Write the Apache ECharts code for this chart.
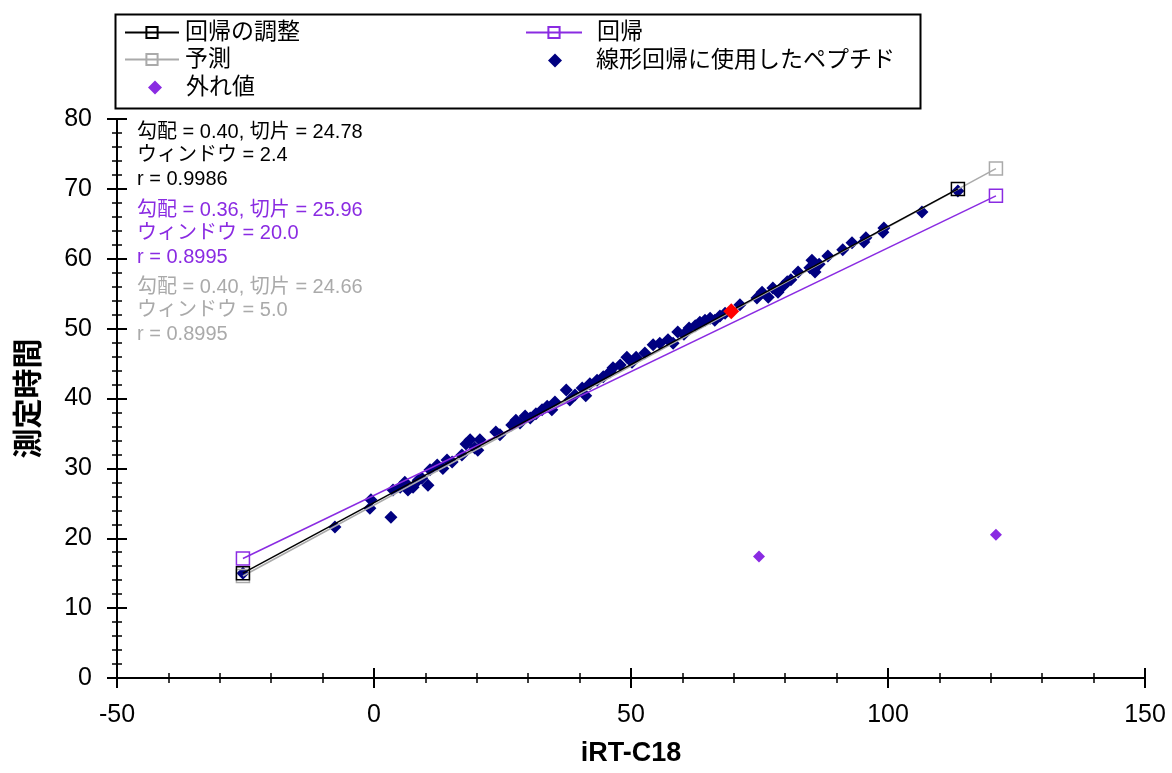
<!DOCTYPE html>
<html>
<head>
<meta charset="utf-8">
<script src="https://cdn.jsdelivr.net/npm/echarts@6/dist/echarts.min.js"></script>
<style>
  html, body { margin: 0; padding: 0; background: #fff; }
  #main { width: 1172px; height: 773px; }
</style>
</head>
<body>
<div id="main"></div>
<script>
// iRT-C18 vs 測定時間
var peptides = [
  [-25.5, 15.0], [-7.6, 21.6], [-0.8, 24.3], [-0.6, 25.5], [3.3, 23.0],
  [3.7, 26.9], [5.1, 27.3], [6.0, 28.0], [6.6, 26.9], [7.6, 27.3],
  [8.6, 28.3], [9.3, 28.6], [10.5, 27.6], [10.9, 29.8], [12.3, 30.5],
  [13.4, 30.0], [14.2, 31.2], [15.2, 30.9], [17.1, 31.9], [17.9, 33.5],
  [18.7, 34.1], [19.6, 32.9], [20.6, 34.1], [20.2, 32.6], [23.7, 35.2],
  [24.5, 34.8], [26.8, 36.2], [27.6, 36.9], [28.4, 36.5], [29.4, 37.5],
  [30.4, 37.2], [31.5, 37.8], [32.7, 38.4], [33.7, 38.9], [34.6, 38.4],
  [35.2, 39.5], [37.4, 41.2], [38.1, 39.8], [39.1, 40.5], [40.5, 41.5],
  [41.2, 40.4], [42.0, 42.1], [43.4, 42.6], [44.6, 43.1], [45.9, 43.8],
  [46.5, 44.4], [47.9, 44.8], [49.2, 45.9], [50.2, 45.2], [51.0, 45.9],
  [52.7, 46.5], [54.3, 47.7], [55.6, 47.9], [57.2, 48.4], [58.2, 47.9],
  [59.1, 49.5], [60.3, 49.2], [61.3, 50.1], [62.5, 50.4], [63.4, 50.9],
  [64.4, 51.2], [65.4, 51.5], [66.3, 51.2], [67.3, 51.8], [68.3, 52.2],
  [71.2, 53.4], [74.5, 54.4], [75.5, 55.2], [76.7, 54.5], [77.6, 55.8],
  [78.6, 55.2], [79.6, 56.1], [80.4, 56.7], [81.1, 57.0], [82.5, 58.1],
  [84.8, 58.7], [85.2, 59.8], [85.8, 58.1], [86.6, 59.2], [88.3, 60.4],
  [91.2, 61.3], [93.0, 62.3], [95.3, 62.4], [95.7, 63.0], [99.0, 63.8],
  [99.2, 64.4], [106.6, 66.7], [113.6, 69.7]
];
var outliers = [[74.9, 17.4], [121.0, 20.5]];
var selected = [[69.5, 52.5]];

var adjustedLine = [[-25.5, 15.0], [113.6, 70.0]];
var predictLine = [[-25.5, 14.6], [121.0, 72.9]];
var regressLine = [[-25.5, 17.1], [121.0, 69.0]];

var adjustedText = ['勾配 = 0.40, 切片 = 24.78', 'ウィンドウ = 2.4', 'r = 0.9986'];
var regressText = ['勾配 = 0.36, 切片 = 25.96', 'ウィンドウ = 20.0', 'r = 0.8995'];
var predictText = ['勾配 = 0.40, 切片 = 24.66', 'ウィンドウ = 5.0', 'r = 0.8995'];

var FONT = '"Liberation Sans", Arial, "Noto Sans CJK JP", sans-serif';
var PURPLE = '#8a2be2';
var GREY = '#aaaaaa';
var NAVY = '#000080';

function textBlock(lines, color, top) {
  return lines.map(function (t, i) {
    return {
      type: 'text', left: 137, top: top + i * 23.5,
      style: { text: t, fill: color, font: '20px ' + FONT }
    };
  });
}

function lineSeries(name, data, color, z) {
  return {
    name: name, type: 'line', data: data, z: z,
    symbol: 'rect', symbolSize: 13, showSymbol: true,
    color: color,
    lineStyle: { color: color, width: 1.5 },
    itemStyle: { color: 'rgba(0,0,0,0)', borderColor: color, borderWidth: 1.5 },
    emphasis: { disabled: true }
  };
}

function valueAxis(min, max, interval, inside, main, extra) {
  var ax = {
    type: 'value', min: min, max: max, interval: interval,
    axisLine: { show: main, onZero: false, lineStyle: { color: '#000', width: 2 } },
    axisTick: { show: true, inside: inside, length: 10, lineStyle: { color: '#000', width: 2 } },
    minorTick: { show: true, splitNumber: 5, length: 5, lineStyle: { color: '#000', width: 1.5 } },
    axisLabel: { show: main, color: '#000', fontSize: 25, fontFamily: FONT, margin: 25 },
    splitLine: { show: false }
  };
  for (var k in extra) ax[k] = extra[k];
  return ax;
}

function legendBox(left, top, itemWidth, pad, names) {
  return {
    orient: 'vertical', left: left, top: top, itemGap: 4,
    itemWidth: itemWidth, itemHeight: 14, data: names, selectedMode: false,
    textStyle: { color: '#000', fontSize: 23, fontFamily: FONT, padding: [0, 0, 0, pad] }
  };
}

var myChart = echarts.init(document.getElementById('main'));
var option = {
  backgroundColor: '#fff',
  animation: false,
  grid: { left: 117, right: 27, top: 119, bottom: 95 },
  legend: [
    legendBox(119, 16, 54, 1, ['回帰の調整', '予測']),
    legendBox(143, 71, 14, 19, ['外れ値']),
    legendBox(520, 16, 56, 10, ['回帰']),
    legendBox(543, 44, 14, 29, ['線形回帰に使用したペプチド'])
  ],
  graphic: [
    {
      type: 'rect', left: 113, top: 12, shape: { width: 805, height: 94 },
      style: { fill: 'none', stroke: '#000', lineWidth: 2 }
    }
  ].concat(textBlock(adjustedText, '#000', 122))
   .concat(textBlock(regressText, PURPLE, 200))
   .concat(textBlock(predictText, GREY, 277)),
  xAxis: [
    valueAxis(-50, 150, 50, false, true, {
      name: 'iRT-C18', nameLocation: 'middle', nameGap: 62,
      nameTextStyle: { color: '#000', fontSize: 27, fontWeight: 'bold', fontFamily: FONT }
    }),
    valueAxis(-50, 150, 50, true, false, { position: 'bottom' })
  ],
  yAxis: [
    valueAxis(0, 80, 10, false, true, {
      name: '測定時間', nameLocation: 'middle', nameGap: 72, nameRotate: 90,
      nameTextStyle: { color: '#000', fontSize: 30, fontWeight: 'bold', fontFamily: FONT }
    }),
    valueAxis(0, 80, 10, true, false, { position: 'left' })
  ],
  series: [
    {
      name: '線形回帰に使用したペプチド', type: 'scatter', data: peptides,
      symbol: 'diamond', symbolSize: 13, z: 2,
      itemStyle: { color: NAVY, opacity: 1 }
    },
    {
      name: '外れ値', type: 'scatter', data: outliers,
      symbol: 'diamond', symbolSize: 12, z: 2,
      itemStyle: { color: PURPLE, opacity: 1 }
    },
    lineSeries('予測', predictLine, GREY, 3),
    lineSeries('回帰', regressLine, PURPLE, 4),
    lineSeries('回帰の調整', adjustedLine, '#000', 5),
    {
      name: '選択', type: 'scatter', data: selected,
      symbol: 'diamond', symbolSize: 16, z: 6,
      itemStyle: { color: '#ff0000', opacity: 1 }
    }
  ]
};
myChart.setOption(option);
</script>
</body>
</html>
